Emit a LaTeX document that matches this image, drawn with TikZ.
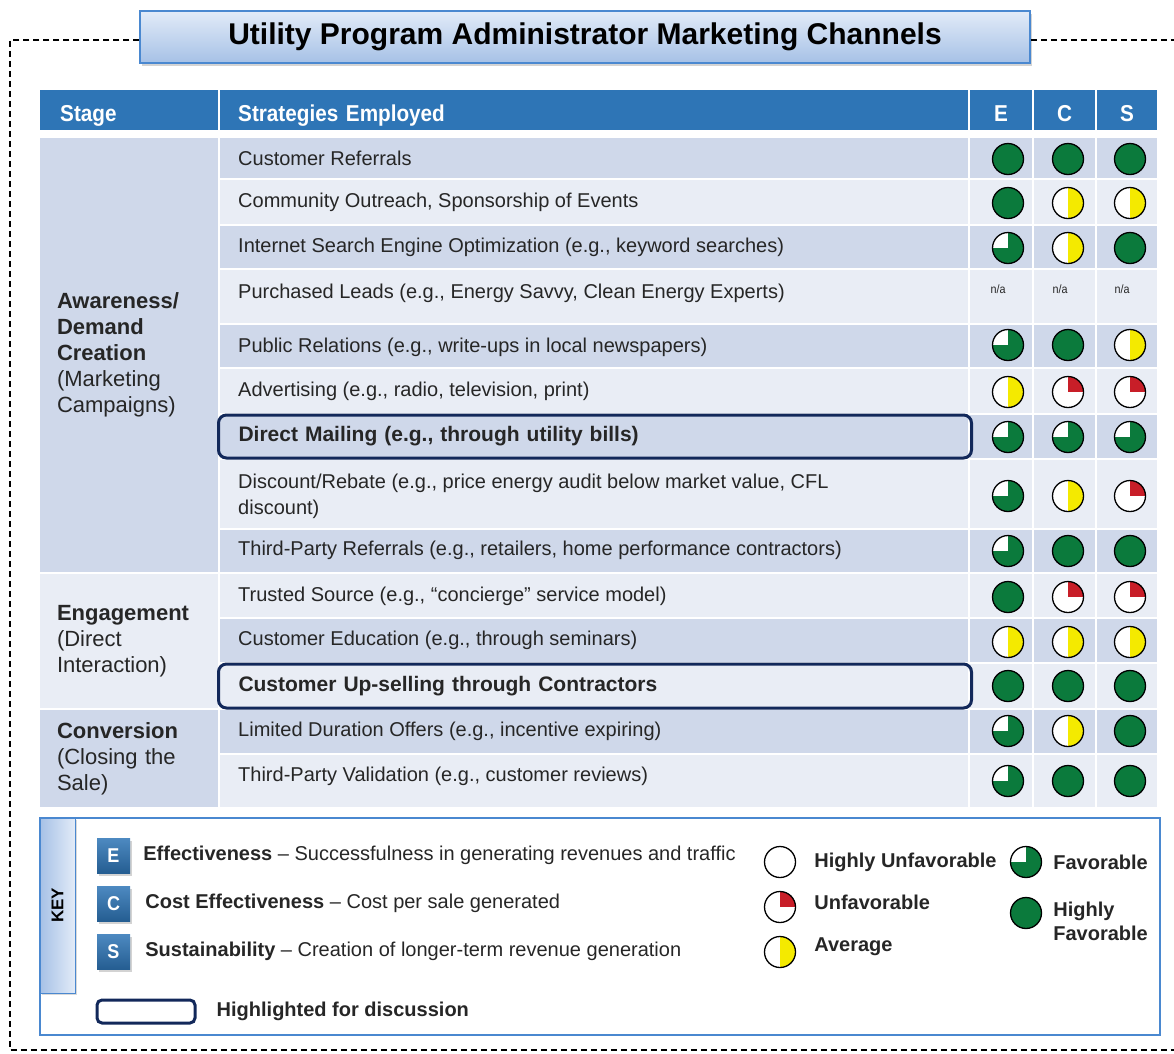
\documentclass[tikz,border=0pt]{standalone}
\usepackage{fontspec}
\setmainfont{Liberation Sans}
\newfontfamily\hdrfont[FakeStretch=0.9]{Liberation Sans}
\usetikzlibrary{positioning,shadows}

\definecolor{hdrblue}{HTML}{2E75B6}
\definecolor{rowdark}{HTML}{CFD8EA}
\definecolor{rowlight}{HTML}{E9EDF5}
\definecolor{favgreen}{HTML}{0B7A3C}
\definecolor{avgyellow}{HTML}{F4EA00}
\definecolor{unfavred}{HTML}{C81E28}
\definecolor{navyline}{HTML}{12285A}
\definecolor{keyblue}{HTML}{4A88D0}
\definecolor{txtgray}{HTML}{262626}
\definecolor{titletop}{HTML}{E2EBF8}
\definecolor{titlebot}{HTML}{A6C1E6}

\begin{document}
\begin{tikzpicture}[
  x=1pt, y=-1pt,
  dashframe/.style={line width=1.2pt, dash pattern=on 6pt off 4pt},
  titlebox/.style={draw=keyblue, line width=1.5pt, top color=titletop, bottom color=titlebot,
    minimum width=890pt, minimum height=52pt, font=\bfseries\fontsize{30}{34}\selectfont,
    drop shadow={shadow xshift=2pt, shadow yshift=-3pt, opacity=0.35}},
  hdr/.style={fill=hdrblue, text=white, minimum height=40pt, inner sep=0pt, text height=22pt, text depth=0pt,
    font=\hdrfont\bfseries\fontsize{23}{26}\selectfont},
  stagecell/.style={minimum width=178pt, text width=144pt, inner xsep=17pt, align=left, text=txtgray, font=\fontsize{22}{26}\selectfont},
  strat/.style={anchor=west, inner sep=0pt, align=left, text=txtgray, font=\fontsize{20}{26}\selectfont},
  hilite/.style={draw=navyline, line width=3pt, rounded corners=8pt},
  rate/.style={circle, draw=black, line width=1.3pt, minimum size=31pt, inner sep=0pt},
  hfav/.style={fill=favgreen},
  fav/.style={fill=favgreen, path picture={\fill[white] (path picture bounding box.center) rectangle (path picture bounding box.north west);}},
  avg/.style={fill=white, path picture={\fill[avgyellow] (path picture bounding box.north) rectangle (path picture bounding box.south east);}},
  unfav/.style={fill=white, path picture={\fill[unfavred] (path picture bounding box.center) rectangle (path picture bounding box.north east);}},
  hunfav/.style={fill=white},
  notapp/.style={text=txtgray, font=\hdrfont\fontsize{12}{14}\selectfont},
  letterbox/.style={top color=hdrblue!85!white, bottom color=hdrblue!80!black, text=white, minimum width=33pt, minimum height=35pt,
    inner sep=0pt, font=\hdrfont\bfseries\fontsize{20}{24}\selectfont,
    drop shadow={shadow xshift=2pt, shadow yshift=-3pt, opacity=0.35}},
  keytext/.style={inner sep=0pt, text=txtgray, font=\fontsize{20}{24}\selectfont},
  legtext/.style={inner sep=0pt, align=left, text=txtgray, font=\bfseries\fontsize{20}{24}\selectfont}
]
\useasboundingbox (0,0) rectangle (1174,1053);

% outer frame and title
\node[titlebox] (title) at (585,37) {Utility Program Administrator Marketing Channels};
\draw[dashframe] ([yshift=-3pt]title.west) -- (10,40) -- (10,1050) -- (1180,1050);
\draw[dashframe] ([yshift=-3pt]title.east) -- (1180,40);

% header row
\node[hdr, anchor=west, minimum width=178pt, text width=138pt, inner xsep=20pt] (hstage) at (40,110) {Stage};
\node[hdr, anchor=west, minimum width=748pt, text width=712pt, inner xsep=18pt] (hstrat) at (220,110) {Strategies Employed};
\node[hdr, minimum width=62pt] (hE) at (1001,110) {E};
\node[hdr, minimum width=61pt] (hC) at (1064.5,110) {C};
\node[hdr, minimum width=60pt] (hS) at (1127,110) {S};

% row shading
\foreach \ya/\yb/\shade in {138/178/rowdark, 180/224/rowlight, 226/268/rowdark, 270/323/rowlight,
  325/367/rowdark, 369/413/rowlight, 415/458/rowdark, 460/528/rowlight, 530/572/rowdark,
  574/617/rowlight, 619/662/rowdark, 664/708/rowlight, 710/753/rowdark, 755/807/rowlight}
{
  \fill[\shade] (220,\ya) rectangle (968,\yb);
  \fill[\shade] (970,\ya) rectangle (1032,\yb);
  \fill[\shade] (1034,\ya) rectangle (1095,\yb);
  \fill[\shade] (1097,\ya) rectangle (1157,\yb);
}

% stages
\node[stagecell, fill=rowdark, minimum height=434pt] (aware) at (129,355)
  {\textbf{Awareness/}\\\textbf{Demand}\\\textbf{Creation}\\(Marketing\\Campaigns)};
\node[stagecell, fill=rowlight, minimum height=134pt] (engage) at (129,641)
  {\textbf{Engagement}\\(Direct\\Interaction)};
\node[stagecell, fill=rowdark, minimum height=97pt] (convert) at (129,758.5)
  {\textbf{Conversion}\\(Closing the\\Sale)};

% strategies
\node[strat] (s1) at (238,158) {Customer Referrals};
\node[strat] (s2) at (238,202) {Community Outreach, Sponsorship of Events};
\node[strat] (s3) at (238,247) {Internet Search Engine Optimization (e.g., keyword searches)};
\node[strat] (s4) at (238,293) {Purchased Leads (e.g., Energy Savvy, Clean Energy Experts)};
\node[strat] (s5) at (238,347) {Public Relations (e.g., write-ups in local newspapers)};
\node[strat] (s6) at (238,391) {Advertising (e.g., radio, television, print)};
\node[hilite, anchor=west, minimum width=753pt, minimum height=43pt, text width=713pt, inner xsep=20pt, inner ysep=0pt,
  align=left, text=txtgray, font=\bfseries\fontsize{21}{26}\selectfont] (s7) at (217,436.5)
  {Direct Mailing (e.g., through utility bills)};
\node[strat] (s8) at (238,496) {Discount/Rebate (e.g., price energy audit below market value, CFL\\discount)};
\node[strat] (s9) at (238,550) {Third-Party Referrals (e.g., retailers, home performance contractors)};
\node[strat] (s10) at (238,596) {Trusted Source (e.g., ``concierge'' service model)};
\node[strat] (s11) at (238,640) {Customer Education (e.g., through seminars)};
\node[hilite, anchor=west, minimum width=753pt, minimum height=44pt, text width=713pt, inner xsep=20pt, inner ysep=0pt,
  align=left, text=txtgray, font=\bfseries\fontsize{21}{26}\selectfont] (s12) at (217,686)
  {Customer Up-selling through Contractors};
\node[strat] (s13) at (238,731) {Limited Duration Offers (e.g., incentive expiring)};
\node[strat] (s14) at (238,776) {Third-Party Validation (e.g., customer reviews)};

% ratings E / C / S
\foreach \y/\re/\rc/\rs in {159/hfav/hfav/hfav, 203/hfav/avg/avg, 248/fav/avg/hfav, 345/fav/hfav/avg,
  392/avg/unfav/unfav, 437/fav/fav/fav, 496/fav/avg/unfav, 551/fav/hfav/hfav, 597/hfav/unfav/unfav,
  642/avg/avg/avg, 686/hfav/hfav/hfav, 731/fav/avg/hfav, 781/fav/hfav/hfav}
{
  \node[rate, \re] (e\y) at (1008,\y) {};
  \node[rate, \rc] (c\y) at (1068,\y) {};
  \node[rate, \rs] (s\y) at (1130,\y) {};
}
\node[notapp] (naE) at (998,289) {n/a};
\node[notapp] (naC) at (1060,289) {n/a};
\node[notapp] (naS) at (1122,289) {n/a};

% key
\draw[keyblue, line width=1.5pt] (40,818) rectangle (1160,1035);
\node[draw=keyblue, line width=1pt, left color=titlebot, right color=titletop,
  minimum width=35pt, minimum height=175pt, drop shadow={shadow xshift=2pt, shadow yshift=-2pt, opacity=0.3}] (keytab) at (57.5,905.5) {};
\node[rotate=90, font=\bfseries\fontsize{17}{20}\selectfont] (keylbl) at (keytab.center) {KEY};

\node[letterbox] (kE) at (113.5,855.5) {E};
\node[letterbox] (kC) at (113.5,903.5) {C};
\node[letterbox] (kS) at (113.5,951.5) {S};
\node[keytext, right=13pt of kE] (tE) {\textbf{Effectiveness} -- Successfulness in generating revenues and traffic};
\node[keytext, right=15pt of kC] (tC) {\textbf{Cost Effectiveness} -- Cost per sale generated};
\node[keytext, right=15pt of kS] (tS) {\textbf{Sustainability} -- Creation of longer-term revenue generation};

\node[rate, hunfav] (lhu) at (780,862) {};
\node[rate, unfav] (lu) at (780,907) {};
\node[rate, avg] (la) at (780,952) {};
\node[rate, fav] (lf) at (1026,862) {};
\node[rate, hfav] (lhf) at (1026,913) {};
\node[legtext, right=18pt of lhu] (thu) {Highly Unfavorable};
\node[legtext, right=18pt of lu, yshift=5pt] (tu) {Unfavorable};
\node[legtext, right=18pt of la, yshift=5pt] (ta) {Average};
\node[legtext, right=11pt of lf] (tf) {Favorable};
\node[legtext, right=11pt of lhf, yshift=-8pt] (thf) {Highly\\Favorable};

\node[hilite, rounded corners=5pt, minimum width=98pt, minimum height=23pt] (hlkey) at (146,1011.5) {};
\node[legtext, right=20pt of hlkey] (thl) {Highlighted for discussion};
\end{tikzpicture}
\end{document}
